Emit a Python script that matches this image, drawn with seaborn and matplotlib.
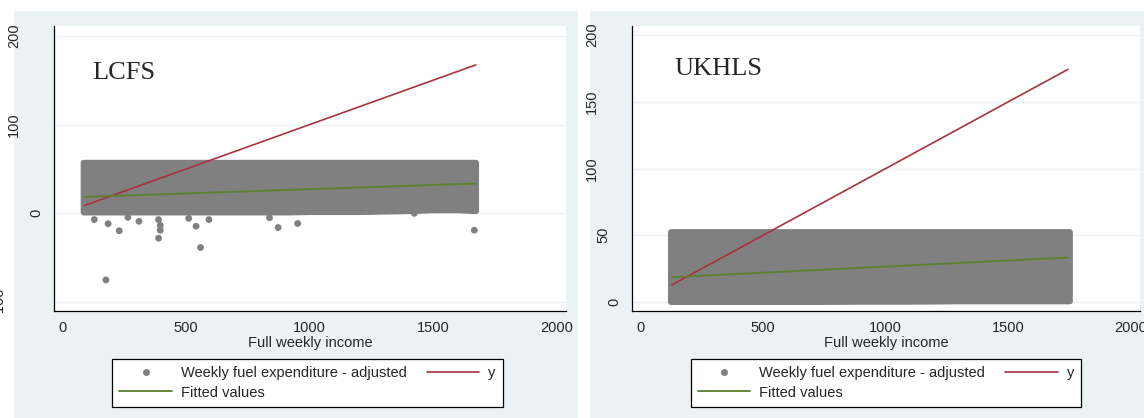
import matplotlib
matplotlib.use("Agg")
import matplotlib.pyplot as plt
import matplotlib.transforms as mtransforms
from matplotlib.lines import Line2D
from matplotlib.patches import Rectangle
import seaborn as sns

# ---- data ----
# LCFS panel
lcfs_out_x = [128, 184, 229, 264, 309, 388, 395, 395, 388, 510, 540, 558, 592, 837, 872, 951, 175, 1666, 1423]
lcfs_out_y = [-7, -11.7, -19.6, -4.5, -9, -7, -13.5, -19, -28, -5.7, -14.5, -38.5, -7, -5, -16, -11.4, -75, -19, 0]
lcfs_block_x = [83, 200, 300, 400, 500, 600, 700, 800, 900, 1000, 1100, 1200, 1300, 1400, 1500, 1600, 1671]
lcfs_block_hi = [57.5] * 17
lcfs_block_lo = [1.5, 1.5, 1.5, 1.5, 1.5, 1.5, 1.5, 1.5, 1.5, 2, 2, 2, 2.5, 3, 4, 4, 3]
lcfs_y_x = [88, 1672]
lcfs_y_y = [8.8, 167.2]
lcfs_fit_x = [88, 1672]
lcfs_fit_y = [18.5, 33.6]
lcfs_yticks = [-100, 0, 100, 200]

# UKHLS panel
ukhls_out_x = []
ukhls_out_y = []
ukhls_block_x = [122, 300, 500, 700, 900, 1100, 1300, 1500, 1700, 1749]
ukhls_block_hi = [52.7] * 10
ukhls_block_lo = [0.3, 0.3, 0.3, 0.3, 0.5, 0.5, 0.8, 0.8, 0.8, 0.8]
ukhls_y_x = [128, 1743]
ukhls_y_y = [12.8, 174.3]
ukhls_fit_x = [128, 1743]
ukhls_fit_y = [18.5, 33.3]
ukhls_yticks = [0, 50, 100, 150, 200]

xticks = [0, 500, 1000, 1500, 2000]

GREY = "#808080"
RED = "#a8323f"
GREEN = "#5b7f2b"
PANEL = "#eaf2f3"

sns.set_style("white")
plt.rcParams["font.family"] = ["Liberation Sans", "DejaVu Sans"]

fig = plt.figure(figsize=(11.44, 4.18), dpi=100)
fig.patch.set_facecolor("white")

# panel backgrounds
fig.patches.append(Rectangle((14 / 1144, 0), 564 / 1144, 407 / 418, transform=fig.transFigure,
                             facecolor=PANEL, edgecolor="none", zorder=-5))
fig.patches.append(Rectangle((590 / 1144, 0), 554 / 1144, 407 / 418, transform=fig.transFigure,
                             facecolor=PANEL, edgecolor="none", zorder=-5))

ax1 = fig.add_axes([54 / 1144, 1 - 311 / 418, 512 / 1144, 285 / 418], zorder=2)
ax2 = fig.add_axes([632 / 1144, 1 - 311 / 418, 508 / 1144, 285 / 418], zorder=2)


def draw_panel(ax, name, bx, blo, bhi, ox, oy, yx, yy, fx, fy, yticks, ylim, name_xy):
    ax.set_facecolor("white")
    poly = ax.fill_between(bx, blo, bhi, color=GREY, lw=4.3, edgecolor=GREY, zorder=2)
    poly.set_joinstyle("round")
    if ox:
        sns.scatterplot(x=ox, y=oy, ax=ax, color=GREY, s=24, edgecolor="none", zorder=2, legend=False)
    sns.lineplot(x=yx, y=yy, ax=ax, color=RED, lw=1.2, zorder=3, legend=False)
    sns.lineplot(x=fx, y=fy, ax=ax, color=GREEN, lw=1.3, zorder=3, legend=False)

    ax.set_xlim(-35, 2037)
    ax.set_ylim(*ylim)
    ax.set_xticks(xticks)
    ax.set_yticks(yticks)
    ax.grid(axis="y", color=PANEL, lw=1.0)
    ax.grid(axis="x", visible=False)
    ax.set_axisbelow(True)
    for s in ["top", "right"]:
        ax.spines[s].set_visible(False)
    for s in ["left", "bottom"]:
        ax.spines[s].set_color("black")
        ax.spines[s].set_linewidth(0.9)
    ax.tick_params(axis="both", direction="out", length=4, width=0.8, color="black",
                   labelsize=10.5, pad=3.5)
    ax.tick_params(axis="y", labelleft=False)
    ax.set_xlabel("Full weekly income", fontsize=10.5, labelpad=0.5)
    ax.set_ylabel("")

    # rotated y tick labels, placed the way the original shows them
    for v in yticks:
        lab = str(v)
        off = 7 + 11 * len(lab) + (4 if lab.startswith("-") else 0)
        tr = mtransforms.offset_copy(ax.get_yaxis_transform(), fig=fig, x=-off, y=0, units="dots")
        ax.text(0, v, lab, rotation=90, ha="center", va="center", fontsize=10.5,
                transform=tr, clip_on=False)

    ax.text(name_xy[0], name_xy[1], name, transform=ax.transAxes, family="Liberation Serif",
            fontsize=19, ha="left", va="baseline")


draw_panel(ax1, "LCFS", lcfs_block_x, lcfs_block_lo, lcfs_block_hi, lcfs_out_x, lcfs_out_y,
           lcfs_y_x, lcfs_y_y, lcfs_fit_x, lcfs_fit_y, lcfs_yticks, (-110, 211), (0.074, 0.814))
draw_panel(ax2, "UKHLS", ukhls_block_x, ukhls_block_lo, ukhls_block_hi, ukhls_out_x, ukhls_out_y,
           ukhls_y_x, ukhls_y_y, ukhls_fit_x, ukhls_fit_y, ukhls_yticks, (-6.8, 206.8), (0.083, 0.828))

handles = [
    Line2D([], [], marker="o", ls="none", color=GREY, markersize=5, markeredgewidth=0),
    Line2D([], [], color=GREEN, lw=1.3),
    Line2D([], [], color=RED, lw=1.2),
]
labels = ["Weekly fuel expenditure - adjusted", "Fitted values", "y"]

for cx in [307.5 / 1144, 886 / 1144]:
    leg = fig.legend(handles, labels, loc="center", bbox_to_anchor=(cx, 1 - 383 / 418), ncol=2,
                     fontsize=10.5, frameon=True, fancybox=False, framealpha=1,
                     edgecolor="black", facecolor="white", handlelength=3.6,
                     handletextpad=0.6, columnspacing=1.4, labelspacing=0.35, borderpad=0.5)
    leg.get_frame().set_linewidth(0.9)

fig.savefig("out.png", dpi=100, facecolor="white")
